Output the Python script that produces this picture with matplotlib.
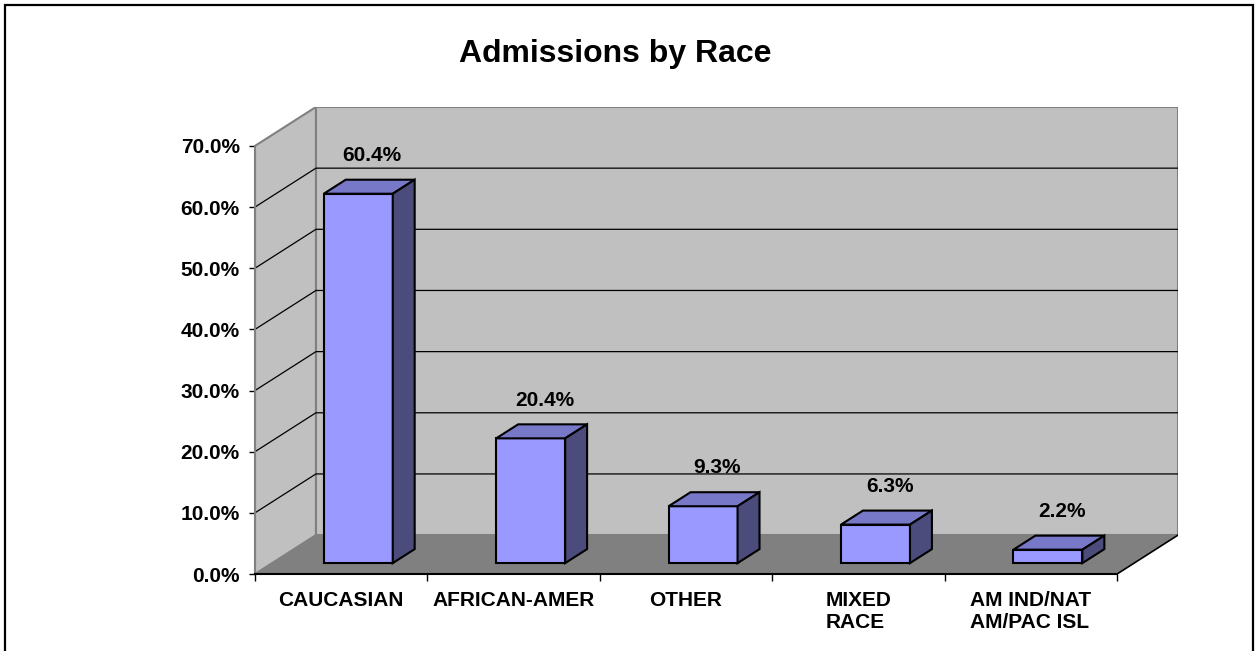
import matplotlib
matplotlib.use('Agg')
import matplotlib.pyplot as plt
from matplotlib.patches import Polygon, Rectangle

plt.rcParams['font.family'] = ['Liberation Sans', 'DejaVu Sans']
plt.rcParams['font.weight'] = 'bold'

categories = ['CAUCASIAN', 'AFRICAN-AMER', 'OTHER', 'MIXED\nRACE', 'AM IND/NAT\nAM/PAC ISL']
values = [60.4, 20.4, 9.3, 6.3, 2.2]
yticks = [0, 10, 20, 30, 40, 50, 60, 70]

# fake 3d depth (oblique offset) in data units
DX = 0.3534
DY = 6.36
z0, z1 = 0.28, 0.64
bar_w = 0.4
ymax = 70

fig = plt.figure(figsize=(12.55, 6.51), dpi=100)
ax = fig.add_axes([255/1255, 77/651, 923/1255, 467/651])
n = len(categories)
ax.set_xlim(0, n + DX)
ax.set_ylim(0, ymax + DY)

# walls and floor
ax.add_patch(Rectangle((DX, DY), n, ymax, fc='#c0c0c0', ec='#808080', lw=1.5, zorder=1))
ax.add_patch(Polygon([(0, 0), (0, ymax), (DX, ymax + DY), (DX, DY)], closed=True,
                     fc='#c0c0c0', ec='#808080', lw=1.5, zorder=1))
ax.add_patch(Polygon([(0, 0), (n, 0), (n + DX, DY), (DX, DY)], closed=True,
                     fc='#808080', ec='none', zorder=2))
ax.plot([n, n + DX], [0, DY], color='black', lw=1.2, zorder=3)
for k in yticks[1:-1]:
    ax.plot([0, DX, n + DX], [k, k + DY, k + DY], color='black', lw=0.9, zorder=2)

# bars
for i, v in enumerate(values):
    x0 = i + 0.5 - bar_w / 2
    fx, fy = x0 + z0 * DX, z0 * DY
    bx, by = x0 + z1 * DX, z1 * DY
    ax.add_patch(Rectangle((fx, fy), bar_w, v, fc='#9999ff', ec='black', lw=1.5, zorder=4))
    ax.add_patch(Polygon([(fx, fy + v), (fx + bar_w, fy + v), (bx + bar_w, by + v), (bx, by + v)],
                         closed=True, fc='#7878c8', ec='black', lw=1.5, zorder=4))
    ax.add_patch(Polygon([(fx + bar_w, fy), (bx + bar_w, by), (bx + bar_w, by + v), (fx + bar_w, fy + v)],
                         closed=True, fc='#4b4b7c', ec='black', lw=1.5, zorder=4))
    ax.annotate(f'{v:.1f}%', (i + 0.5 + 0.51 * DX, v + z1 * DY), xytext=(0, 13.5),
                textcoords='offset points', ha='center', va='baseline',
                fontsize=15, fontweight='bold', zorder=5)

# axes
for s in ['top', 'right']:
    ax.spines[s].set_visible(False)
ax.spines['left'].set_bounds(0, ymax)
ax.spines['left'].set_color('#808080')
ax.spines['left'].set_linewidth(1.5)
ax.spines['left'].set_zorder(3)
ax.spines['bottom'].set_bounds(0, n)
ax.spines['bottom'].set_linewidth(1.5)
ax.spines['bottom'].set_zorder(3)

ax.set_yticks(yticks)
ax.yaxis.set_major_formatter(lambda v, p: f'{v:.1f}%')
ax.tick_params(axis='y', length=4.5, width=1, pad=6.5, labelsize=15)

ax.set_xticks(range(n + 1))
ax.set_xticklabels([])
ax.set_xticks([i + 0.5 for i in range(n)], minor=True)
ax.set_xticklabels(categories, minor=True, fontsize=15, fontweight='bold',
                   multialignment='left', linespacing=1.2)
ax.tick_params(axis='x', which='major', length=5, width=1)
ax.tick_params(axis='x', which='minor', length=0, pad=12.5)
for lbl in ax.get_yticklabels():
    lbl.set_fontweight('bold')

fig.text(615/1255, 1 - 62/651, 'Admissions by Race', ha='center', va='baseline',
         fontsize=23, fontweight='bold')

fig.add_artist(Rectangle((5/1255, -0.02), 1248/1255, 1 - 5/651 + 0.02, transform=fig.transFigure,
                         fill=False, ec='black', lw=1.6))

fig.savefig('out.png', dpi=100)
